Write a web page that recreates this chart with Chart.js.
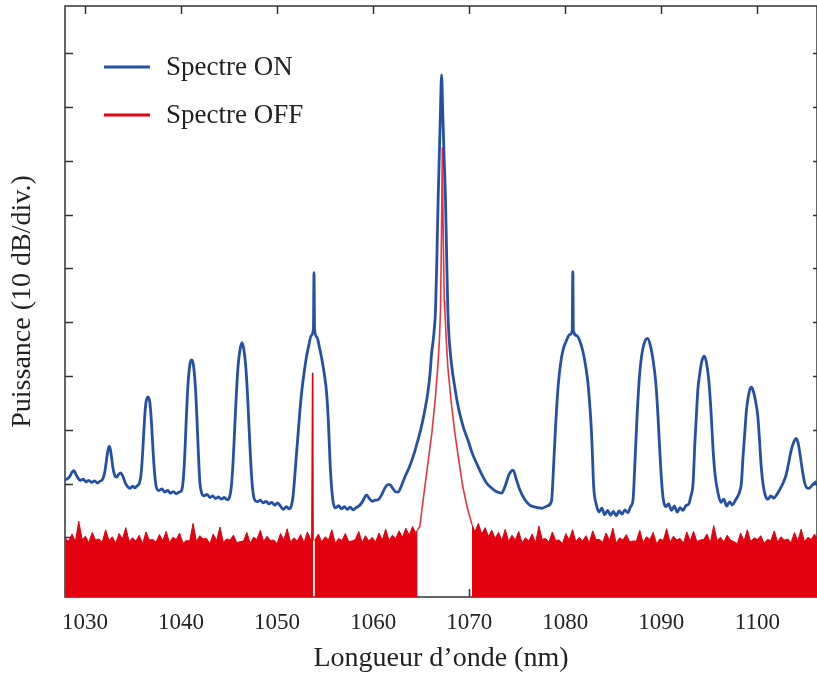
<!DOCTYPE html>
<html>
<head>
<meta charset="utf-8">
<title>Spectre ON / OFF</title>
<script src="https://cdn.jsdelivr.net/npm/chart.js@4.4.1/dist/chart.umd.min.js"></script>
<style>
  html, body { margin: 0; padding: 0; background: #fff; }
  #wrap { width: 817px; height: 677px; }
</style>
</head>
<body>
<div id="wrap"><canvas id="spectrum"></canvas></div>
<script>
// tick values (nm, dB)
const xTicks = [1030, 1040, 1050, 1060, 1070, 1080, 1090, 1100];
const yTicks = [-100, -90, -80, -70, -60, -50, -40, -30, -20, -10, 0];

// Spectre ON, [wavelength nm, power dB]
const onSpectrum = [
  [1027.92,-79.3],[1028.20,-79.1],[1028.45,-78.6],[1028.65,-77.9],[1028.86,-77.6],[1029.05,-78.3],
  [1029.25,-78.9],[1029.50,-79.4],[1029.82,-79.2],[1030.10,-79.7],[1030.40,-79.4],[1030.70,-79.8],
  [1031.00,-79.5],[1031.30,-79.9],[1031.55,-79.6],[1031.80,-79.3],[1032.00,-78.4],[1032.15,-76.8],
  [1032.30,-74.8],[1032.42,-73.6],[1032.53,-73.1],[1032.65,-73.7],[1032.80,-75.6],[1032.95,-77.5],
  [1033.12,-78.6],[1033.30,-78.8],[1033.50,-78.3],[1033.72,-78.0],[1033.95,-78.7],[1034.20,-79.9],
  [1034.45,-80.6],[1034.68,-80.9],[1034.95,-80.5],[1035.20,-80.8],[1035.45,-80.4],[1035.65,-80.0],
  [1035.82,-78.5],[1035.95,-75.8],[1036.08,-71.8],[1036.22,-67.5],[1036.36,-64.8],[1036.56,-63.9],
  [1036.74,-64.8],[1036.88,-67.5],[1037.02,-71.8],[1037.15,-75.8],[1037.28,-78.7],[1037.45,-80.8],
  [1037.70,-81.3],[1038.00,-81.0],[1038.30,-81.6],[1038.60,-81.3],[1038.90,-81.8],[1039.20,-81.5],
  [1039.50,-81.9],[1039.80,-81.6],[1040.05,-81.3],[1040.22,-79.5],[1040.38,-75.0],[1040.52,-69.0],
  [1040.66,-63.5],[1040.80,-59.8],[1040.95,-57.6],[1041.10,-57.0],[1041.25,-57.6],[1041.40,-59.8],
  [1041.54,-63.5],[1041.68,-69.0],[1041.82,-75.0],[1041.96,-79.8],[1042.15,-81.8],[1042.40,-82.3],
  [1042.70,-82.0],[1043.00,-82.6],[1043.30,-82.3],[1043.60,-82.8],[1043.90,-82.5],[1044.20,-82.9],
  [1044.50,-82.6],[1044.80,-83.0],[1045.05,-82.5],[1045.22,-80.8],[1045.40,-76.5],[1045.58,-70.0],
  [1045.76,-63.2],[1045.95,-57.9],[1046.15,-55.0],[1046.34,-53.8],[1046.53,-55.0],[1046.72,-57.9],
  [1046.91,-63.2],[1047.09,-70.0],[1047.27,-76.5],[1047.45,-81.0],[1047.65,-83.0],[1047.95,-83.4],
  [1048.25,-83.1],[1048.55,-83.6],[1048.85,-83.3],[1049.15,-83.8],[1049.45,-83.5],[1049.75,-84.0],
  [1050.05,-83.6],[1050.35,-84.2],[1050.65,-84.8],[1050.95,-84.3],[1051.25,-84.7],[1051.50,-84.0],
  [1051.65,-82.5],[1051.80,-79.5],[1051.95,-76.0],[1052.15,-71.5],[1052.35,-67.0],[1052.55,-63.1],
  [1052.80,-59.5],[1053.05,-56.5],[1053.30,-54.3],[1053.55,-52.5],[1053.78,-51.2],[1053.84,-40.8],
  [1053.90,-51.3],[1054.15,-52.8],[1054.40,-54.6],[1054.65,-56.8],[1054.90,-59.5],[1055.15,-63.1],
  [1055.35,-69.0],[1055.50,-75.6],[1055.65,-80.2],[1055.85,-83.6],[1056.10,-84.5],[1056.40,-84.1],
  [1056.70,-84.7],[1057.00,-84.3],[1057.30,-84.8],[1057.60,-84.4],[1057.90,-84.9],[1058.20,-84.5],
  [1058.50,-84.2],[1058.80,-83.6],[1059.05,-82.8],[1059.31,-82.1],[1059.60,-82.8],[1059.90,-83.3],
  [1060.20,-83.1],[1060.52,-83.0],[1060.85,-82.2],[1061.20,-80.9],[1061.50,-80.2],[1061.74,-80.2],
  [1062.00,-80.8],[1062.30,-81.5],[1062.60,-81.6],[1062.90,-80.6],[1063.30,-78.8],[1063.80,-76.8],
  [1064.30,-74.2],[1064.60,-72.3],[1065.00,-69.6],[1065.35,-66.6],[1065.69,-63.1],[1065.92,-59.5],
  [1066.08,-55.8],[1066.22,-53.8],[1066.35,-51.5],[1066.49,-47.7],[1066.63,-38.0],[1066.76,-27.3],
  [1066.89,-18.5],[1067.00,-11.0],[1067.12,-4.0],[1067.24,-11.0],[1067.38,-19.0],[1067.53,-27.3],
  [1067.65,-38.0],[1067.77,-47.7],[1067.90,-52.8],[1068.00,-55.1],[1068.20,-58.5],[1068.45,-61.6],
  [1068.71,-64.4],[1069.00,-66.9],[1069.40,-69.6],[1069.86,-71.9],[1070.30,-74.3],[1070.80,-76.4],
  [1071.30,-78.3],[1071.80,-79.9],[1072.30,-80.8],[1072.80,-81.5],[1073.36,-81.8],[1073.75,-80.4],
  [1074.15,-78.3],[1074.57,-77.5],[1074.90,-79.2],[1075.27,-81.2],[1075.80,-83.0],[1076.30,-84.0],
  [1076.90,-84.4],[1077.52,-84.6],[1078.10,-84.2],[1078.56,-83.3],[1078.80,-76.0],[1079.00,-69.0],
  [1079.25,-62.0],[1079.50,-57.8],[1079.77,-55.1],[1080.10,-53.5],[1080.45,-52.3],[1080.72,-51.6],
  [1080.78,-40.6],[1080.84,-51.6],[1081.20,-52.5],[1081.55,-53.7],[1081.85,-55.6],[1082.15,-58.5],
  [1082.37,-61.5],[1082.55,-65.5],[1082.73,-70.6],[1082.85,-76.0],[1082.95,-80.5],[1083.24,-84.0],
  [1083.50,-85.3],[1083.80,-84.6],[1084.10,-85.8],[1084.40,-85.0],[1084.70,-85.9],[1085.00,-85.2],
  [1085.30,-86.0],[1085.60,-85.1],[1085.90,-85.7],[1086.20,-84.9],[1086.50,-85.4],[1086.80,-84.3],
  [1087.05,-83.0],[1087.25,-76.0],[1087.47,-67.5],[1087.70,-60.5],[1087.93,-56.4],[1088.20,-54.0],
  [1088.55,-53.0],[1088.85,-54.3],[1089.15,-57.2],[1089.42,-61.3],[1089.65,-67.5],[1089.83,-73.7],
  [1090.00,-79.0],[1090.18,-82.7],[1090.45,-84.3],[1090.75,-83.8],[1091.05,-85.0],[1091.35,-84.2],
  [1091.65,-85.3],[1091.95,-84.5],[1092.25,-85.0],[1092.55,-84.1],[1092.85,-83.8],[1093.05,-82.5],
  [1093.30,-79.9],[1093.50,-72.0],[1093.64,-67.5],[1093.80,-62.5],[1094.00,-59.5],[1094.22,-57.2],
  [1094.47,-56.3],[1094.72,-57.8],[1094.96,-61.3],[1095.18,-67.0],[1095.38,-73.7],[1095.60,-78.5],
  [1095.90,-81.8],[1096.20,-83.5],[1096.50,-82.9],[1096.80,-84.2],[1097.10,-83.4],[1097.40,-84.0],
  [1097.70,-83.1],[1097.95,-82.4],[1098.15,-81.5],[1098.33,-79.9],[1098.50,-75.0],[1098.68,-70.6],
  [1098.85,-66.5],[1099.00,-64.4],[1099.20,-62.6],[1099.37,-62.1],[1099.55,-62.7],[1099.80,-64.6],
  [1100.04,-67.5],[1100.22,-72.0],[1100.39,-76.8],[1100.60,-80.3],[1100.85,-82.4],[1101.10,-82.9],
  [1101.40,-82.3],[1101.70,-82.7],[1102.00,-82.1],[1102.30,-81.2],[1102.67,-79.9],[1102.95,-78.6],
  [1103.18,-76.8],[1103.53,-73.7],[1103.80,-72.2],[1104.05,-71.6],[1104.25,-72.6],[1104.47,-75.0],
  [1104.70,-77.8],[1104.92,-79.9],[1105.15,-80.8],[1105.37,-80.9],[1105.70,-80.3],[1106.14,-79.6]
];

// Spectre OFF: noise floor (filled), null = hole in the trace
const offFloor = [
  [1027.95,-90.2],[1028.30,-90.7],[1028.65,-89.4],[1029.00,-90.8],[1029.35,-87.0],[1029.70,-90.4],
  [1030.05,-89.8],[1030.40,-91.0],[1030.75,-89.1],[1031.10,-90.5],[1031.45,-90.3],[1031.80,-90.9],
  [1032.15,-88.6],[1032.50,-90.6],[1032.85,-89.9],[1033.20,-91.1],[1033.55,-89.3],[1033.90,-90.3],
  [1034.25,-88.2],[1034.60,-90.8],[1034.95,-90.1],[1035.30,-90.7],[1035.65,-89.6],[1036.00,-91.2],
  [1036.35,-89.0],[1036.70,-90.5],[1037.05,-90.4],[1037.40,-90.9],[1037.75,-89.5],[1038.10,-90.6],
  [1038.45,-88.9],[1038.80,-91.0],[1039.15,-90.0],[1039.50,-90.4],[1039.85,-89.2],[1040.20,-91.1],
  [1040.55,-90.6],[1040.90,-90.7],[1041.25,-87.4],[1041.60,-90.8],[1041.95,-89.7],[1042.30,-90.3],
  [1042.65,-90.2],[1043.00,-91.2],[1043.35,-89.4],[1043.70,-90.6],[1044.05,-88.1],[1044.40,-90.9],
  [1044.75,-90.3],[1045.10,-90.5],[1045.45,-89.6],[1045.80,-91.0],[1046.15,-90.8],[1046.50,-90.7],
  [1046.85,-89.1],[1047.20,-91.1],[1047.55,-90.0],[1047.90,-90.4],[1048.25,-88.7],[1048.60,-90.8],
  [1048.95,-89.8],[1049.30,-90.6],[1049.65,-90.5],[1050.00,-91.2],[1050.35,-89.3],[1050.70,-90.5],
  [1051.05,-88.4],[1051.40,-90.9],[1051.75,-90.1],[1052.10,-90.7],[1052.45,-89.5],[1052.80,-91.0],
  [1053.15,-89.0],[1053.50,-90.4],[1053.74,-90.4],[1053.82,null],[1053.90,-90.6],[1054.30,-89.4],
  [1054.65,-90.9],[1055.00,-89.9],[1055.35,-90.5],[1055.70,-88.6],[1056.05,-91.1],[1056.40,-90.2],
  [1056.75,-90.6],[1057.10,-89.3],[1057.45,-90.8],[1057.80,-90.7],[1058.15,-90.4],[1058.50,-88.9],
  [1058.85,-91.0],[1059.20,-89.7],[1059.55,-90.7],[1059.90,-90.0],[1060.25,-90.9],[1060.60,-89.2],
  [1060.95,-90.5],[1061.30,-88.5],[1061.65,-90.6],[1062.00,-89.6],[1062.35,-90.2],[1062.70,-88.8],
  [1063.05,-90.0],[1063.40,-88.3],[1063.75,-89.6],[1064.10,-88.0],[1064.45,-89.2],[1064.62,-88.6],
  [1067.20,null],
  [1070.28,-87.6],[1070.60,-89.0],[1070.95,-87.4],[1071.30,-89.4],[1071.65,-88.2],[1072.00,-89.8],
  [1072.35,-88.7],[1072.70,-90.2],[1073.05,-89.1],[1073.40,-90.6],[1073.75,-88.5],[1074.10,-90.8],
  [1074.45,-89.6],[1074.80,-90.5],[1075.15,-88.9],[1075.50,-91.0],[1075.85,-90.1],[1076.20,-90.7],
  [1076.55,-89.4],[1076.90,-91.1],[1077.25,-87.9],[1077.60,-90.4],[1077.95,-90.2],[1078.30,-90.9],
  [1078.65,-89.0],[1079.00,-90.6],[1079.35,-90.5],[1079.70,-91.2],[1080.05,-89.3],[1080.40,-90.5],
  [1080.75,-88.6],[1081.10,-90.8],[1081.45,-90.0],[1081.80,-90.7],[1082.15,-89.7],[1082.50,-91.0],
  [1082.85,-88.8],[1083.20,-90.4],[1083.55,-90.4],[1083.90,-90.9],[1084.25,-89.2],[1084.60,-90.6],
  [1084.95,-88.3],[1085.30,-91.1],[1085.65,-90.1],[1086.00,-90.5],[1086.35,-89.5],[1086.70,-90.8],
  [1087.05,-90.7],[1087.40,-90.7],[1087.75,-88.7],[1088.10,-91.0],[1088.45,-89.9],[1088.80,-90.4],
  [1089.15,-89.1],[1089.50,-91.2],[1089.85,-90.3],[1090.20,-90.6],[1090.55,-88.4],[1090.90,-90.9],
  [1091.25,-89.8],[1091.60,-90.5],[1091.95,-90.2],[1092.30,-91.1],[1092.65,-89.0],[1093.00,-90.7],
  [1093.35,-88.9],[1093.70,-90.8],[1094.05,-90.5],[1094.40,-90.4],[1094.75,-89.4],[1095.10,-91.0],
  [1095.45,-87.8],[1095.80,-90.6],[1096.15,-90.0],[1096.50,-90.9],[1096.85,-89.6],[1097.20,-90.5],
  [1097.55,-90.8],[1097.90,-91.2],[1098.25,-89.2],[1098.60,-90.7],[1098.95,-88.6],[1099.30,-90.8],
  [1099.65,-90.1],[1100.00,-90.4],[1100.35,-89.7],[1100.70,-91.1],[1101.05,-90.4],[1101.40,-90.6],
  [1101.75,-88.8],[1102.10,-90.9],[1102.45,-89.9],[1102.80,-90.5],[1103.15,-90.3],[1103.50,-91.0],
  [1103.85,-89.1],[1104.20,-90.7],[1104.55,-88.5],[1104.90,-90.8],[1105.25,-90.0],[1105.60,-90.4],
  [1105.95,-89.4],[1106.20,-90.6]
];

// Spectre OFF: laser line around 1067 nm (not filled)
const offPeak = [
  [1064.62,-88.6],[1064.86,-88.0],[1065.10,-84.5],[1065.38,-80.6],[1065.75,-75.5],[1066.11,-70.6],
  [1066.45,-64.5],[1066.73,-58.3],[1066.90,-53.0],[1067.01,-47.7],[1067.10,-35.0],[1067.20,-17.5],
  [1067.30,-35.0],[1067.40,-46.0],[1067.46,-47.7],[1067.60,-53.0],[1067.77,-58.3],[1068.10,-64.5],
  [1068.50,-70.6],[1068.90,-75.5],[1069.33,-80.6],[1069.80,-84.5],[1070.28,-87.6]
];

// Spectre OFF: narrow line at 1053.7 nm
const offSpike = [[1053.62,-90.4],[1053.70,-59.4],[1053.74,-90.6]];

const BLUE = '#2450a6';
const RED = '#e3000f';
const SERIF = "'Liberation Serif', 'DejaVu Serif', serif";

const toXY = arr => arr.map(([x, y]) => ({ x, y }));

// frame with inward ticks, like the original plot
const framePlugin = {
  id: 'frame',
  beforeDatasetsDraw(chart) {
    const { ctx, chartArea: a, scales: { x, y } } = chart;
    ctx.save();
    ctx.strokeStyle = '#333';
    ctx.lineWidth = 1.5;
    ctx.strokeRect(a.left, a.top, a.right - a.left, a.bottom - a.top);
    ctx.beginPath();
    xTicks.forEach(v => {
      const px = Math.round(x.getPixelForValue(v)) + 0.5;
      ctx.moveTo(px, a.top); ctx.lineTo(px, a.top + 8);
      ctx.moveTo(px, a.bottom); ctx.lineTo(px, a.bottom - 8);
    });
    yTicks.forEach(v => {
      const py = Math.round(y.getPixelForValue(v)) + 0.5;
      ctx.moveTo(a.left, py); ctx.lineTo(a.left + 8, py);
      ctx.moveTo(a.right, py); ctx.lineTo(a.right - 4, py);
    });
    ctx.stroke();
    ctx.restore();
  }
};

const legendPlugin = {
  id: 'insideLegend',
  afterDraw(chart) {
    const { ctx } = chart;
    const items = [['Spectre ON', BLUE, 67], ['Spectre OFF', RED, 115]];
    ctx.save();
    ctx.font = '27px ' + SERIF;
    ctx.textBaseline = 'middle';
    ctx.fillStyle = '#222';
    items.forEach(([label, color, yy]) => {
      ctx.strokeStyle = color;
      ctx.lineWidth = 3;
      ctx.beginPath();
      ctx.moveTo(104, yy); ctx.lineTo(150, yy);
      ctx.stroke();
      ctx.fillText(label, 166, yy + 1);
    });
    ctx.restore();
  }
};

new Chart(document.getElementById('spectrum'), {
  type: 'line',
  data: {
    datasets: [
      {
        label: 'Spectre OFF (raie)',
        data: toXY(offPeak),
        borderColor: 'rgba(227,0,15,0.8)',
        borderWidth: 1.6,
        pointRadius: 0,
        fill: false,
        tension: 0
      },
      {
        label: 'Spectre ON',
        data: toXY(onSpectrum),
        borderColor: BLUE,
        borderWidth: 2.8,
        pointRadius: 0,
        fill: false,
        cubicInterpolationMode: 'monotone'
      },
      {
        label: 'Spectre OFF (raie 1053)',
        data: toXY(offSpike),
        borderColor: RED,
        borderWidth: 1.6,
        pointRadius: 0,
        fill: false,
        tension: 0
      },
      {
        label: 'Spectre OFF',
        data: toXY(offFloor),
        borderColor: RED,
        backgroundColor: RED,
        borderWidth: 1,
        pointRadius: 0,
        fill: 'start',
        spanGaps: false,
        tension: 0
      }
    ]
  },
  options: {
    responsive: true,
    maintainAspectRatio: false,
    animation: false,
    devicePixelRatio: 1,
    events: [],
    layout: { padding: { top: 6, right: 0, left: 0, bottom: 0 } },
    plugins: {
      legend: { display: false },
      tooltip: { enabled: false }
    },
    scales: {
      x: {
        type: 'linear',
        min: 1027.92,
        max: 1106.2,
        afterBuildTicks: scale => { scale.ticks = xTicks.map(value => ({ value })); },
        afterFit: scale => { scale.height = 80; },
        grid: { display: false },
        border: { display: false },
        ticks: {
          color: '#222',
          padding: 4,
          maxRotation: 0,
          font: { family: SERIF, size: 23 },
          callback: value => String(value)
        },
        title: {
          display: true,
          text: 'Longueur d’onde (nm)',
          color: '#222',
          font: { family: SERIF, size: 28 },
          padding: { top: 0, bottom: 2 }
        }
      },
      y: {
        min: -101.1,
        max: 8.8,
        afterBuildTicks: scale => { scale.ticks = yTicks.map(value => ({ value })); },
        afterFit: scale => { scale.width = 65; },
        grid: { display: false },
        border: { display: false },
        ticks: { display: false },
        title: {
          display: true,
          text: 'Puissance (10 dB/div.)',
          color: '#222',
          font: { family: SERIF, size: 28 },
          padding: { top: 6, bottom: 0 }
        }
      }
    }
  },
  plugins: [framePlugin, legendPlugin]
});
</script>
</body>
</html>
